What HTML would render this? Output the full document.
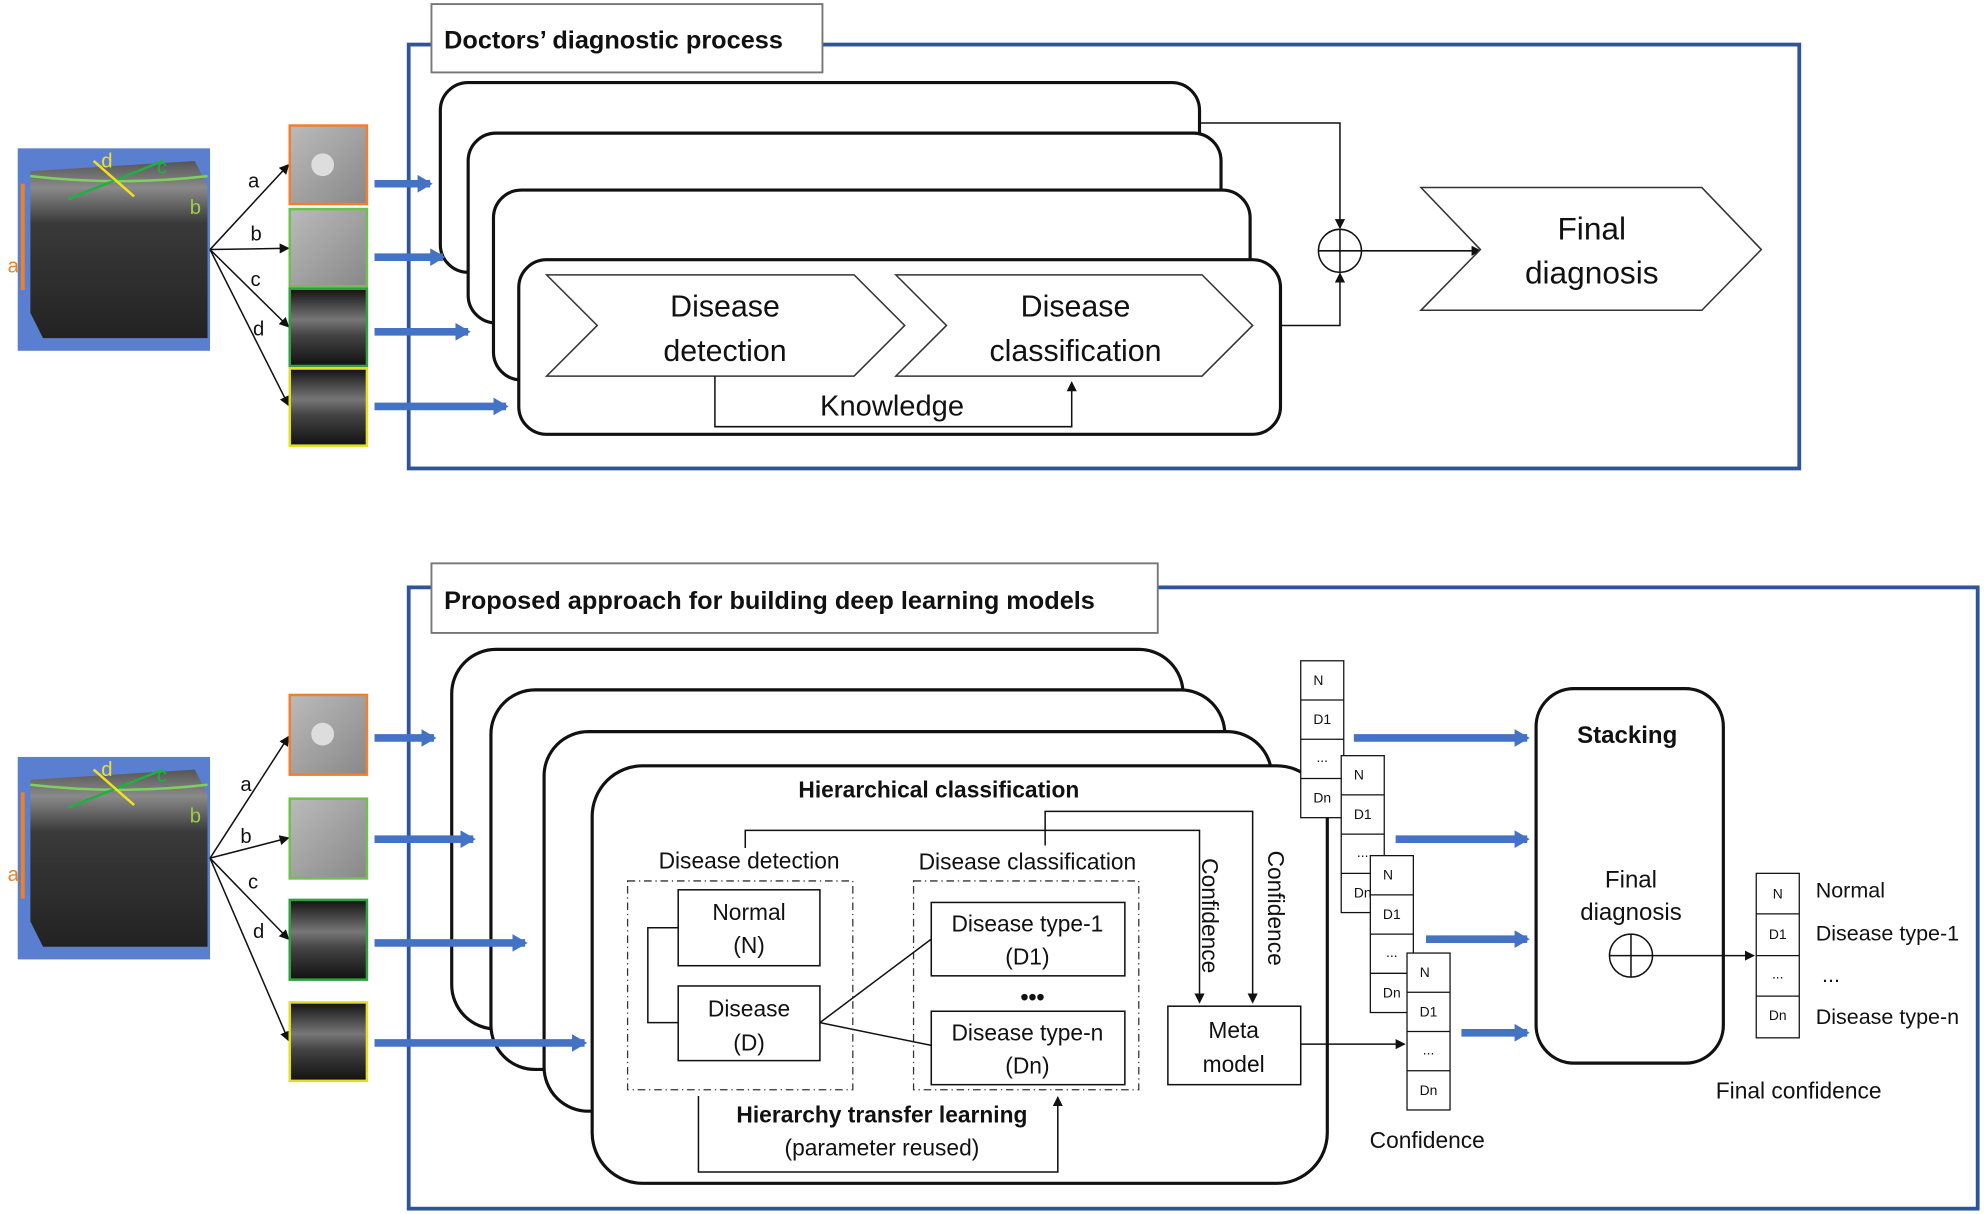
<!DOCTYPE html>
<html><head><meta charset="utf-8"><style>
html,body{margin:0;padding:0;background:#fff;}
svg{display:block;}
text{font-family:"Liberation Sans",sans-serif;fill:#111;}
</style></head><body>
<svg width="1984" height="1214" viewBox="0 0 1568 959" xmlns="http://www.w3.org/2000/svg">
<defs>
<marker id="ah" markerWidth="8" markerHeight="8" refX="7" refY="4" orient="auto" markerUnits="userSpaceOnUse"><path d="M0,0 L8,4 L0,8 z" fill="#111"/></marker>
<linearGradient id="oct" x1="0" y1="0" x2="0" y2="1"><stop offset="0" stop-color="#555"/><stop offset="0.15" stop-color="#8a8a8a"/><stop offset="0.35" stop-color="#3a3a3a"/><stop offset="1" stop-color="#222"/></linearGradient>
<linearGradient id="fund" x1="0" y1="0" x2="1" y2="1"><stop offset="0" stop-color="#bbb"/><stop offset="1" stop-color="#888"/></linearGradient>
<linearGradient id="bscan" x1="0" y1="0" x2="0" y2="1"><stop offset="0" stop-color="#111"/><stop offset="0.4" stop-color="#777"/><stop offset="0.6" stop-color="#444"/><stop offset="1" stop-color="#111"/></linearGradient>
<g id="cube">
<rect x="0" y="0" width="152" height="160" fill="#5b7fd0"/>
<path d="M10,18 L140,10 L150,30 L150,150 L20,150 L10,130 z" fill="url(#oct)"/>
<path d="M10,22 Q80,30 150,22" stroke="#7fd060" stroke-width="2" fill="none"/>
<line x1="4" y1="28" x2="4" y2="112" stroke="#f08020" stroke-width="3"/>
<text x="-8" y="98" font-size="16" style="fill:#f08020">a</text>
<line x1="40" y1="40" x2="115" y2="10" stroke="#20b040" stroke-width="2"/>
<line x1="60" y1="10" x2="92" y2="38" stroke="#f0e020" stroke-width="2"/>
<text x="66" y="15" font-size="16" style="fill:#f0e020">d</text>
<text x="110" y="20" font-size="16" style="fill:#20b040">c</text>
<text x="136" y="52" font-size="16" style="fill:#9ad040">b</text>
</g>
<marker id="ba" markerWidth="12" markerHeight="14" refX="10" refY="7" orient="auto" markerUnits="userSpaceOnUse"><path d="M0,0 L12,7 L0,14 z" fill="#4472c4"/></marker>
</defs>

<!-- TOP -->
<rect x="323" y="35" width="1099" height="335" fill="none" stroke="#2f5597" stroke-width="3"/>
<rect x="341" y="3" width="309" height="54" fill="#fff" stroke="#777" stroke-width="1.5"/>
<text x="351" y="38" font-size="20" font-weight="bold">Doctors’ diagnostic  process</text>

<use href="#cube" x="14" y="117"/>
<g stroke="#111" stroke-width="1.2" marker-end="url(#ah)">
<line x1="166" y1="197" x2="228" y2="130"/><line x1="166" y1="197" x2="228" y2="196"/>
<line x1="166" y1="197" x2="228" y2="258"/><line x1="166" y1="197" x2="228" y2="320"/>
</g>
<text x="196" y="148" font-size="16">a</text><text x="198" y="190" font-size="16">b</text>
<text x="198" y="226" font-size="16">c</text><text x="200" y="265" font-size="16">d</text>
<rect x="229" y="99" width="61" height="62" fill="url(#fund)" stroke="#f08030" stroke-width="2"/>
<circle cx="255" cy="130" r="9" fill="#ddd"/>
<rect x="229" y="165" width="61" height="61" fill="url(#fund)" stroke="#70c050" stroke-width="2"/>
<rect x="229" y="228" width="61" height="61" fill="url(#bscan)" stroke="#30a040" stroke-width="2"/>
<rect x="229" y="291" width="61" height="61" fill="url(#bscan)" stroke="#e0e020" stroke-width="2"/>
<g fill="#fff" stroke="#111" stroke-width="2.5">
<rect x="348" y="65" width="600" height="150" rx="22"/>
<rect x="370" y="105" width="595" height="150" rx="22"/>
<rect x="390" y="150" width="598" height="150" rx="22"/>
<rect x="410" y="205" width="602" height="138" rx="22"/>
</g>
<g stroke="#4472c4" stroke-width="6" marker-end="url(#ba)">
<line x1="296" y1="145" x2="340" y2="145"/><line x1="296" y1="203" x2="350" y2="203"/>
<line x1="296" y1="262" x2="370" y2="262"/><line x1="296" y1="321" x2="400" y2="321"/>
</g>
<g fill="#fff" stroke="#333" stroke-width="1.2">
<polygon points="432,217 675,217 715,257 675,297 432,297 472,257"/>
<polygon points="708,217 950,217 990,257 950,297 708,297 748,257"/>
</g>
<text x="573" y="250" font-size="24" text-anchor="middle">Disease</text>
<text x="573" y="285" font-size="24" text-anchor="middle">detection</text>
<text x="850" y="250" font-size="24" text-anchor="middle">Disease</text>
<text x="850" y="285" font-size="24" text-anchor="middle">classification</text>
<polyline points="565,297 565,337 847,337 847,302" fill="none" stroke="#111" stroke-width="1.2" marker-end="url(#ah)"/>
<rect x="635" y="308" width="140" height="26" fill="#fff"/>
<text x="705" y="328" font-size="23" text-anchor="middle">Knowledge</text>
<g fill="none" stroke="#111" stroke-width="1.2">
<polyline points="948,97 1059,97 1059,180" marker-end="url(#ah)"/>
<polyline points="1012,257 1059,257 1059,216" marker-end="url(#ah)"/>
<line x1="1076" y1="198" x2="1170" y2="198" marker-end="url(#ah)"/>
<circle cx="1059" cy="198" r="17"/><line x1="1042" y1="198" x2="1076" y2="198"/><line x1="1059" y1="181" x2="1059" y2="215"/>
</g>
<polygon points="1123,148 1345,148 1392,197 1345,245 1123,245 1170,197" fill="#fff" stroke="#333" stroke-width="1.2"/>
<text x="1258" y="189" font-size="25" text-anchor="middle">Final</text>
<text x="1258" y="224" font-size="25" text-anchor="middle">diagnosis</text>

<!-- BOTTOM -->
<rect x="323" y="464" width="1240" height="491" fill="none" stroke="#2f5597" stroke-width="3"/>
<rect x="341" y="445" width="574" height="55" fill="#fff" stroke="#777" stroke-width="1.5"/>
<text x="351" y="481" font-size="20" font-weight="bold">Proposed approach for building deep learning models</text>

<use href="#cube" x="14" y="598"/>
<g stroke="#111" stroke-width="1.2" marker-end="url(#ah)">
<line x1="166" y1="678" x2="228" y2="582"/><line x1="166" y1="678" x2="228" y2="662"/>
<line x1="166" y1="678" x2="228" y2="742"/><line x1="166" y1="678" x2="228" y2="822"/>
</g>
<text x="190" y="625" font-size="16">a</text><text x="190" y="666" font-size="16">b</text>
<text x="196" y="702" font-size="16">c</text><text x="200" y="741" font-size="16">d</text>
<rect x="229" y="549" width="61" height="63" fill="url(#fund)" stroke="#f08030" stroke-width="2"/>
<circle cx="255" cy="580" r="9" fill="#ddd"/>
<rect x="229" y="631" width="61" height="63" fill="url(#fund)" stroke="#70c050" stroke-width="2"/>
<rect x="229" y="711" width="61" height="63" fill="url(#bscan)" stroke="#30a040" stroke-width="2"/>
<rect x="229" y="792" width="61" height="62" fill="url(#bscan)" stroke="#e0e020" stroke-width="2"/>
<g fill="#fff" stroke="#111" stroke-width="2.5">
<rect x="357" y="513" width="578" height="300" rx="35"/>
<rect x="388" y="545" width="580" height="300" rx="35"/>
<rect x="430" y="578" width="575" height="300" rx="35"/>
<rect x="468" y="605" width="581" height="330" rx="40"/>
</g>
<g stroke="#4472c4" stroke-width="6" marker-end="url(#ba)">
<line x1="296" y1="583" x2="343" y2="583"/><line x1="296" y1="663" x2="374" y2="663"/>
<line x1="296" y1="745" x2="415" y2="745"/><line x1="296" y1="824" x2="462" y2="824"/>
</g>
<text x="742" y="630" font-size="18" font-weight="bold" text-anchor="middle">Hierarchical classification</text>
<g fill="none" stroke="#111" stroke-width="1.2">
<polyline points="589,670 589,656 948,656 948,792" marker-end="url(#ah)"/>
<polyline points="826,668 826,641 990,641 990,792" marker-end="url(#ah)"/>
</g>
<text x="592" y="686" font-size="18" text-anchor="middle">Disease detection</text>
<text x="812" y="687" font-size="18" text-anchor="middle">Disease classification</text>
<text font-size="18" transform="translate(950,678) rotate(90)">Confidence</text>
<text font-size="18" transform="translate(1002,672) rotate(90)">Confidence</text>
<g fill="none" stroke="#333" stroke-width="1" stroke-dasharray="6,3,1,3">
<rect x="496" y="696" width="178" height="165"/><rect x="722" y="696" width="178" height="165"/>
</g>
<g fill="#fff" stroke="#111" stroke-width="1.2">
<rect x="536" y="703" width="112" height="60"/><rect x="536" y="779" width="112" height="59"/>
<rect x="736" y="713" width="153" height="58"/><rect x="736" y="799" width="153" height="58"/>
<rect x="923" y="795" width="105" height="62"/>
</g>
<g fill="none" stroke="#111" stroke-width="1.2">
<polyline points="536,733 512,733 512,808 536,808"/>
<line x1="648" y1="808" x2="736" y2="742"/><line x1="648" y1="808" x2="736" y2="826"/>
<polyline points="1028,825 1110,825" marker-end="url(#ah)"/>
<polyline points="552,866 552,926 836,926 836,867" marker-end="url(#ah)"/>
</g>
<g font-size="18" text-anchor="middle">
<text x="592" y="727">Normal</text><text x="592" y="753">(N)</text>
<text x="592" y="803">Disease</text><text x="592" y="830">(D)</text>
<text x="812" y="736">Disease type-1</text><text x="812" y="762">(D1)</text>
<text x="816" y="794" font-weight="bold">•••</text>
<text x="812" y="822">Disease type-n</text><text x="812" y="848">(Dn)</text>
<text x="975" y="820">Meta</text><text x="975" y="847">model</text>
</g>
<text x="697" y="887" font-size="18" font-weight="bold" text-anchor="middle">Hierarchy transfer learning</text>
<text x="697" y="913" font-size="18" text-anchor="middle">(parameter reused)</text>

<!-- confidence vectors -->
<g font-size="11" text-anchor="middle">
<g transform="translate(1028,522)"><rect width="34" height="124" fill="#fff" stroke="#111"/><line x1="0" y1="31" x2="34" y2="31" stroke="#111"/><line x1="0" y1="62" x2="34" y2="62" stroke="#111"/><line x1="0" y1="93" x2="34" y2="93" stroke="#111"/><text x="14" y="19">N</text><text x="17" y="50">D1</text><text x="17" y="80">...</text><text x="17" y="112">Dn</text></g>
<g transform="translate(1060,597)"><rect width="34" height="124" fill="#fff" stroke="#111"/><line x1="0" y1="31" x2="34" y2="31" stroke="#111"/><line x1="0" y1="62" x2="34" y2="62" stroke="#111"/><line x1="0" y1="93" x2="34" y2="93" stroke="#111"/><text x="14" y="19">N</text><text x="17" y="50">D1</text><text x="17" y="80">...</text><text x="17" y="112">Dn</text></g>
<g transform="translate(1083,676)"><rect width="34" height="124" fill="#fff" stroke="#111"/><line x1="0" y1="31" x2="34" y2="31" stroke="#111"/><line x1="0" y1="62" x2="34" y2="62" stroke="#111"/><line x1="0" y1="93" x2="34" y2="93" stroke="#111"/><text x="14" y="19">N</text><text x="17" y="50">D1</text><text x="17" y="80">...</text><text x="17" y="112">Dn</text></g>
<g transform="translate(1112,753)"><rect width="34" height="124" fill="#fff" stroke="#111"/><line x1="0" y1="31" x2="34" y2="31" stroke="#111"/><line x1="0" y1="62" x2="34" y2="62" stroke="#111"/><line x1="0" y1="93" x2="34" y2="93" stroke="#111"/><text x="14" y="19">N</text><text x="17" y="50">D1</text><text x="17" y="80">...</text><text x="17" y="112">Dn</text></g>
<g transform="translate(1388,690)"><rect width="34" height="130" fill="#fff" stroke="#111"/><line x1="0" y1="32" x2="34" y2="32" stroke="#111"/><line x1="0" y1="65" x2="34" y2="65" stroke="#111"/><line x1="0" y1="97" x2="34" y2="97" stroke="#111"/><text x="17" y="20">N</text><text x="17" y="52">D1</text><text x="17" y="83">...</text><text x="17" y="116">Dn</text></g>
</g>
<text x="1128" y="907" font-size="18" text-anchor="middle">Confidence</text>
<g stroke="#4472c4" stroke-width="6" marker-end="url(#ba)">
<line x1="1070" y1="583" x2="1207" y2="583"/><line x1="1103" y1="663" x2="1207" y2="663"/>
<line x1="1127" y1="742" x2="1207" y2="742"/><line x1="1155" y1="816" x2="1207" y2="816"/>
</g>
<rect x="1214" y="544" width="148" height="296" rx="30" fill="#fff" stroke="#111" stroke-width="2.5"/>
<text x="1286" y="587" font-size="19" font-weight="bold" text-anchor="middle">Stacking</text>
<text x="1289" y="701" font-size="19" text-anchor="middle">Final</text>
<text x="1289" y="727" font-size="19" text-anchor="middle">diagnosis</text>
<g fill="none" stroke="#111" stroke-width="1.2">
<circle cx="1289" cy="755" r="17"/><line x1="1272" y1="755" x2="1306" y2="755"/><line x1="1289" y1="738" x2="1289" y2="772"/>
<line x1="1306" y1="755" x2="1386" y2="755" marker-end="url(#ah)"/>
</g>
<g font-size="17">
<text x="1435" y="709">Normal</text><text x="1435" y="743">Disease type-1</text>
<text x="1440" y="776">...</text><text x="1435" y="809">Disease type-n</text>
<text x="1356" y="868" font-size="18">Final confidence</text>
</g>
</svg>
</body></html>
